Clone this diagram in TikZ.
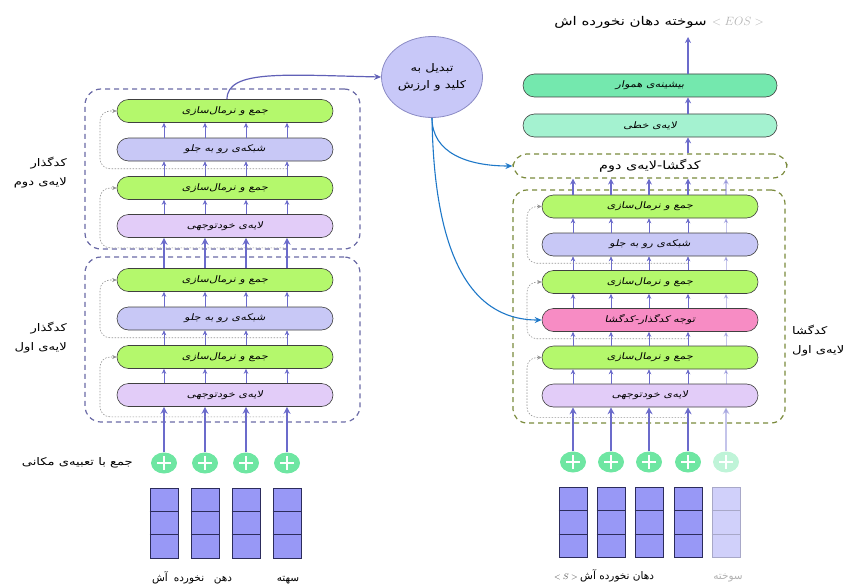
\documentclass[tikz,border=0pt]{standalone}
\usepackage{fontspec}
\usetikzlibrary{arrows.meta,shapes.geometric,calc}
\TeXXeTstate=1
\newfontfamily\farsifont[Script=Arabic,FakeStretch=1.25]{DejaVu Sans}
\newfontfamily\farsislant[Script=Arabic,FakeStretch=1.25,FakeSlant=0.2]{DejaVu Sans}
\newfontfamily\farsiplain[Script=Arabic]{DejaVu Sans}
\newcommand{\prs}[1]{{\farsifont\beginR #1\endR}}
\newcommand{\prsi}[1]{{\farsislant\beginR #1\endR}}
\newcommand{\prsn}[1]{{\farsiplain\beginR #1\endR}}
\definecolor{grn}{HTML}{B4F86C}
\definecolor{ffc}{HTML}{C8C8F6}
\definecolor{sac}{HTML}{E2CCF8}
\definecolor{pnk}{HTML}{F78CC4}
\definecolor{linc}{HTML}{A4F2D0}
\definecolor{smc}{HTML}{74E8AE}
\definecolor{encc}{HTML}{6A6AA6}
\definecolor{decc}{HTML}{7A8A3C}
\definecolor{arrc}{HTML}{6B6BCB}
\definecolor{kvc}{HTML}{C8C8F8}
\definecolor{kvd}{HTML}{8A8AC4}
\definecolor{bluec}{HTML}{1E78C8}
\definecolor{plc}{HTML}{6EE6A2}
\definecolor{plf}{HTML}{BFF4D8}
\definecolor{embc}{HTML}{9898F6}
\definecolor{embd}{HTML}{2C2C5C}
\definecolor{embf}{HTML}{D0D0FA}
\definecolor{embfd}{HTML}{A8A8C8}
\tikzset{
  blk/.style={draw=black!75, line width=0.6pt, rounded corners=11.5pt, minimum width=216pt, minimum height=23pt, inner sep=0pt, font=\fontsize{9}{10}\selectfont},
  addnorm/.style={blk, fill=grn},
  ffn/.style={blk, fill=ffc},
  selfatt/.style={blk, fill=sac},
  crossatt/.style={blk, fill=pnk},
  encbox/.style={draw=encc, dash pattern=on 5pt off 4pt, line width=1.2pt, rounded corners=16pt, inner sep=0pt},
  decbox/.style={draw=decc, dash pattern=on 5pt off 4pt, line width=1.2pt, rounded corners=14pt, inner sep=0pt},
  arr/.style={draw=arrc, line width=0.7pt, -{Stealth[length=5pt,width=4.5pt]}},
  tarr/.style={draw=arrc, line width=1.6pt, -{Stealth[length=7pt,width=7pt]}},
  marr/.style={draw=arrc, line width=1.2pt, -{Stealth[length=6pt,width=6pt]}},
  resline/.style={draw=gray!85, line width=0.6pt, dash pattern=on 1.5pt off 1.5pt, rounded corners=10pt, -{Stealth[length=4.5pt,width=4pt]}},
  fadeit/.style={opacity=0.4},
  plusnode/.style={ellipse, fill=plc, minimum width=26pt, minimum height=21pt, inner sep=0pt,
    path picture={\draw[white, line width=1.1pt] ([xshift=-7pt]path picture bounding box.center) -- ([xshift=7pt]path picture bounding box.center) ([yshift=-7pt]path picture bounding box.center) -- ([yshift=7pt]path picture bounding box.center);}},
  embnode/.style={draw=embd, fill=embc, minimum width=28pt, minimum height=70pt, inner sep=0pt, line width=0.7pt},
  lbl/.style={font=\fontsize{10.5}{19}\selectfont, inner sep=0pt},
  word/.style={font=\fontsize{10.5}{12}\selectfont, inner sep=0pt, anchor=base},
}
\begin{document}
\begin{tikzpicture}[x=1pt,y=1pt]
\useasboundingbox (0,0) rectangle (853,-583);

% ---------------- Encoder ----------------
\node[encbox, minimum width=275pt, minimum height=160pt] (enc2) at (222.5,-169) {};
\node[encbox, minimum width=275pt, minimum height=165pt] (enc1) at (222.5,-339.5) {};

\node[addnorm] (g2a) at (225,-111) {\prsi{جمع و نرمال‌سازی}};
\node[ffn] (ff2) at (225,-149.5) {\prsi{شبکه‌ی رو به جلو}};
\node[addnorm] (g2b) at (225,-188) {\prsi{جمع و نرمال‌سازی}};
\node[selfatt] (sa2) at (225,-226) {\prsi{لایه‌ی خودتوجهی}};

\node[addnorm] (g1a) at (225,-280) {\prsi{جمع و نرمال‌سازی}};
\node[ffn] (ff1) at (225,-318.5) {\prsi{شبکه‌ی رو به جلو}};
\node[addnorm] (g1b) at (225,-357) {\prsi{جمع و نرمال‌سازی}};
\node[selfatt] (sa1) at (225,-395) {\prsi{لایه‌ی خودتوجهی}};

\foreach \c/\x in {1/164,2/205,3/246,4/287}{
  \coordinate (lc\c) at (\x,0);
  \node[plusnode] (p\c) at (\x,-463) {};
  \node[embnode] (e\c) at (\x,-523) {};
  \draw[embd, line width=0.7pt] ($(e\c.north west)!1/3!(e\c.south west)$) -- ($(e\c.north east)!1/3!(e\c.south east)$);
  \draw[embd, line width=0.7pt] ($(e\c.north west)!2/3!(e\c.south west)$) -- ($(e\c.north east)!2/3!(e\c.south east)$);
  \draw[arr] (sa2.north -| lc\c) -- (g2b.south -| lc\c);
  \draw[arr] (g2b.north -| lc\c) -- (ff2.south -| lc\c);
  \draw[arr] (ff2.north -| lc\c) -- (g2a.south -| lc\c);
  \draw[arr] (sa1.north -| lc\c) -- (g1b.south -| lc\c);
  \draw[arr] (g1b.north -| lc\c) -- (ff1.south -| lc\c);
  \draw[arr] (ff1.north -| lc\c) -- (g1a.south -| lc\c);
  \draw[tarr] (g1a.north -| lc\c) -- (sa2.south -| lc\c);
  \draw[tarr] (p\c.north) -- (sa1.south -| lc\c);
}

\coordinate (lv) at (100,0);
\draw[resline] ($(ff2.south -| lc4)!0.5!(g2b.north -| lc4)$) -| (lv |- g2a.west) -- (g2a.west);
\draw[resline] ($(sa2.south -| lc4)+(0,-10)$) -| (lv |- g2b.west) -- (g2b.west);
\draw[resline] ($(ff1.south -| lc4)!0.5!(g1b.north -| lc4)$) -| (lv |- g1a.west) -- (g1a.west);
\draw[resline] ($(sa1.south -| lc4)+(0,-10)$) -| (lv |- g1b.west) -- (g1b.west);

\node[lbl, anchor=east, align=right] (encl2) at (67,-173) {\prs{کدگذار}\\\prs{لایه‌ی دوم}};
\node[lbl, anchor=east, align=right] (encl1) at (67,-338) {\prs{کدگذار}\\\prs{لایه‌ی اول}};
\node[lbl, anchor=east] (posl) at (133,-463) {\prs{جمع با تعبیه‌ی مکانی}};

\node[word] (w1) at (160,-581) {\prsn{آش}};
\node[word] (w2) at (189,-581) {\prsn{نخورده}};
\node[word] (w3) at (223,-581) {\prsn{دهن}};
\node[word] (w4) at (288,-581) {\prsn{سهته}};

% ---------------- Key/Value ----------------
\node[ellipse, draw=kvd, fill=kvc, line width=0.8pt, minimum width=101pt, minimum height=81pt, align=center, font=\fontsize{10.5}{17}\selectfont, inner sep=0pt] (kv) at (432,-77) {\prs{تبدیل به}\\\prs{کلید و ارزش}};
\coordinate (kc) at (227,0);
\draw[draw=arrc!90!black, line width=1.2pt, -{Stealth[length=7pt,width=6pt]}] (g2a.north -| kc) .. controls +(0,30) and +(-95,2) .. (kv.west);

% ---------------- Decoder ----------------
\node[decbox, minimum width=272pt, minimum height=233pt] (dec1) at (649,-306.5) {};
\node[decbox, minimum width=274pt, minimum height=24pt, font=\fontsize{11.5}{12}\selectfont] (d2) at (650,-166) {\prs{کدگشا-لایه‌ی دوم}};

\node[addnorm] (dg2a) at (650,-206.5) {\prsi{جمع و نرمال‌سازی}};
\node[ffn] (dff) at (650,-244.5) {\prsi{شبکه‌ی رو به جلو}};
\node[addnorm] (dg2b) at (650,-282) {\prsi{جمع و نرمال‌سازی}};
\node[crossatt] (dca) at (650,-320) {\prsi{توجه کدگذار-کدگشا}};
\node[addnorm] (dg1) at (650,-357.5) {\prsi{جمع و نرمال‌سازی}};
\node[selfatt] (dsa) at (650,-395.5) {\prsi{لایه‌ی خودتوجهی}};

\node[blk, fill=linc, minimum width=254pt] (lin) at (650,-125.5) {\prsi{لایه‌ی خطی}};
\node[blk, fill=smc, minimum width=254pt] (sm) at (650,-85.5) {\prsi{بیشینه‌ی هموار}};

\foreach \c/\x in {1/573,2/611,3/649,4/688,5/726}{
  \coordinate (rc\c) at (\x,0);
}
\foreach \c in {1,...,4}{
  \node[plusnode] (q\c) at (rc\c |- 0,-462) {};
  \node[embnode] (f\c) at (rc\c |- 0,-522.5) {};
}
\node[plusnode, fill=plf] (q5) at (rc5 |- 0,-462) {};
\node[embnode, fill=embf, draw=embfd] (f5) at (rc5 |- 0,-522.5) {};
\foreach \c in {1,...,4}{
  \draw[embd, line width=0.7pt] ($(f\c.north west)!1/3!(f\c.south west)$) -- ($(f\c.north east)!1/3!(f\c.south east)$);
  \draw[embd, line width=0.7pt] ($(f\c.north west)!2/3!(f\c.south west)$) -- ($(f\c.north east)!2/3!(f\c.south east)$);
}
\draw[embfd, line width=0.7pt] ($(f5.north west)!1/3!(f5.south west)$) -- ($(f5.north east)!1/3!(f5.south east)$);
\draw[embfd, line width=0.7pt] ($(f5.north west)!2/3!(f5.south west)$) -- ($(f5.north east)!2/3!(f5.south east)$);

\foreach \c/\st in {1/,2/,3/,4/,5/fadeit}{
  \draw[arr, \st] (dsa.north -| rc\c) -- (dg1.south -| rc\c);
  \draw[arr, \st] (dg1.north -| rc\c) -- (dca.south -| rc\c);
  \draw[arr, \st] (dca.north -| rc\c) -- (dg2b.south -| rc\c);
  \draw[arr, \st] (dg2b.north -| rc\c) -- (dff.south -| rc\c);
  \draw[arr, \st] (dff.north -| rc\c) -- (dg2a.south -| rc\c);
  \draw[marr, \st] (dg2a.north -| rc\c) -- (d2.south -| rc\c);
  \draw[tarr, \st] (q\c.north) -- (dsa.south -| rc\c);
}
\draw[marr] (d2.north -| rc4) -- (lin.south -| rc4);
\draw[marr] (lin.north -| rc4) -- (sm.south -| rc4);
\coordinate (outc) at (688,-37);
\draw[marr] (sm.north -| rc4) -- (outc);

\coordinate (rv) at (527,0);
\draw[resline] ($(dff.south -| rc4)!0.5!(dg2b.north -| rc4)$) -| (rv |- dg2a.west) -- (dg2a.west);
\draw[resline] ($(dca.south -| rc4)!0.5!(dg1.north -| rc4)$) -| (rv |- dg2b.west) -- (dg2b.west);
\draw[resline] ($(dsa.south -| rc4)+(0,-10)$) -| (rv |- dg1.west) -- (dg1.west);

\draw[bluec, line width=1.1pt, -{Stealth[length=7pt,width=6pt]}] (kv.south) .. controls +(0,-35) and +(-45,0) .. (d2.west);
\draw[bluec, line width=1.1pt, -{Stealth[length=7pt,width=6pt]}] (kv.south) .. controls +(2,-130) and +(-75,0) .. (dca.west);

\node[lbl, anchor=west, align=left] (decl1) at (792,-341) {\prs{کدگشا}\\\prs{لایه‌ی اول}};

\node[word, anchor=base east, font=\fontsize{12}{13}\selectfont] (outw) at (707,-26) {\prs{سوخته دهان نخورده اش}};
\node[word, anchor=base west, text=gray!60, font=\fontsize{12.5}{13}\selectfont] (eos) at (712,-26) {$<EOS>$};

\node[word, text=black!70, anchor=base east, font=\fontsize{8}{9}\selectfont] (s0) at (578,-579) {$<S>$};
\node[word, anchor=base west] (v1) at (580,-579) {\prsn{دهان نخورده آش}};
\node[word, text=gray!60] (v4) at (728,-579) {\prsn{سوخته}};
\end{tikzpicture}
\end{document}
